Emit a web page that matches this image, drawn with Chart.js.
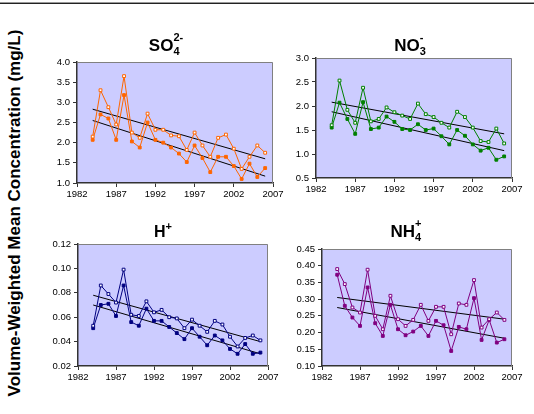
<!DOCTYPE html>
<html>
<head>
<meta charset="utf-8">
<script src="https://cdn.jsdelivr.net/npm/chart.js@4.4.1/dist/chart.umd.min.js"></script>
<style>
  html, body { margin: 0; padding: 0; background: #fff; }
  body { width: 534px; height: 414px; position: relative; overflow: hidden; font-family: "Liberation Sans", Arial, sans-serif; }
  canvas { position: absolute; }
  #topline { position: absolute; left: 0; top: 2px; width: 534px; height: 0; border-top: 1px solid #999; border-bottom: 1px solid #222; }
  #ytitle { position: absolute; left: 15px; top: 213px; transform: translate(-50%, -50%) rotate(-90deg); white-space: nowrap; font-weight: bold; font-size: 17px; color: #000; }
</style>
</head>
<body>
<div id="topline"></div>
<div id="ytitle">Volume-Weighted Mean Concentration (mg/L)</div>
<canvas id="c1"></canvas>
<canvas id="c2"></canvas>
<canvas id="c3"></canvas>
<canvas id="c4"></canvas>
<script>
// ---- data ----
const years = [1984,1985,1986,1987,1988,1989,1990,1991,1992,1993,1994,1995,1996,1997,1998,1999,2000,2001,2002,2003,2004,2005,2006];
const trendYears = [1984, 2006];
const xTicks = [1982, 1987, 1992, 1997, 2002, 2007];

const so4Upper = [2.15,3.30,2.88,2.45,3.65,2.25,2.12,2.72,2.32,2.32,2.18,2.16,1.82,2.25,1.93,1.65,2.12,2.20,1.85,1.35,1.65,1.93,1.75];
const so4Lower = [2.07,2.70,2.60,2.07,3.18,2.03,1.88,2.50,2.07,2.00,1.88,1.73,1.52,1.93,1.62,1.27,1.65,1.65,1.42,1.10,1.48,1.15,1.37];
const so4TrendUpper = [2.83, 1.60];
const so4TrendLower = [2.55, 1.17];
const so4Ticks = ['1.0', '1.5', '2.0', '2.5', '3.0', '3.5', '4.0'];

const no3Upper = [1.60,2.53,1.92,1.65,2.38,1.68,1.73,1.97,1.87,1.80,1.73,2.05,1.83,1.77,1.65,1.55,1.88,1.77,1.55,1.27,1.25,1.53,1.22];
const no3Lower = [1.55,2.07,1.73,1.42,2.08,1.52,1.55,1.78,1.67,1.52,1.50,1.62,1.50,1.53,1.37,1.20,1.50,1.38,1.20,1.07,1.13,0.88,0.95];
const no3TrendUpper = [2.08, 1.42];
const no3TrendLower = [1.88, 1.07];
const no3Ticks = ['0.5', '1.0', '1.5', '2.0', '2.5', '3.0'];

const hUpper = [0.053,0.086,0.079,0.072,0.099,0.062,0.061,0.073,0.064,0.066,0.060,0.059,0.051,0.058,0.053,0.048,0.057,0.054,0.044,0.036,0.043,0.045,0.041];
const hLower = [0.051,0.070,0.071,0.061,0.086,0.056,0.053,0.067,0.057,0.057,0.052,0.047,0.042,0.051,0.044,0.037,0.045,0.041,0.034,0.030,0.038,0.030,0.031];
const hTrendUpper = [0.078, 0.040];
const hTrendLower = [0.070, 0.030];
const hTicks = ['0.02', '0.04', '0.06', '0.08', '0.10', '0.12'];

const nh4Upper = [0.390,0.345,0.275,0.260,0.388,0.250,0.210,0.310,0.240,0.220,0.238,0.283,0.235,0.277,0.277,0.195,0.287,0.283,0.357,0.215,0.240,0.260,0.238];
const nh4Lower = [0.373,0.280,0.245,0.220,0.335,0.228,0.190,0.283,0.210,0.192,0.203,0.220,0.190,0.235,0.222,0.145,0.217,0.210,0.303,0.178,0.238,0.170,0.180];
const nh4TrendUpper = [0.305, 0.240];
const nh4TrendLower = [0.275, 0.183];
const nh4Ticks = ['0.10', '0.15', '0.20', '0.25', '0.30', '0.35', '0.40', '0.45'];

// ---- helpers ----
const FONT = "'Liberation Sans', Arial, sans-serif";
const toXY = (xs, ys) => xs.map((x, i) => ({ x: x, y: ys[i] }));

function makePanel(id, box, plot, color, upper, lower, tUp, tLo, yTickLabels, titleParts, titleCenter) {
  const cv = document.getElementById(id);
  cv.style.left = box.left + 'px';
  cv.style.top = box.top + 'px';
  cv.width = box.width; cv.height = box.height;
  const yW = plot.l - box.left;
  const xH = box.top + box.height - plot.b;
  const padTop = plot.t - box.top;
  const padRight = box.left + box.width - plot.r;
  const yVals = yTickLabels.map(Number);
  const labelFor = v => {
    let best = 0;
    yVals.forEach((t, i) => { if (Math.abs(t - v) < Math.abs(yVals[best] - v)) best = i; });
    return yTickLabels[best];
  };

  const plotDeco = {
    id: 'plotDeco',
    beforeDraw(chart) {
      const a = chart.chartArea, ctx = chart.ctx;
      ctx.save();
      ctx.fillStyle = '#CCCCFF';
      ctx.fillRect(a.left, a.top, a.right - a.left, a.bottom - a.top);
      ctx.restore();
    },
    beforeDatasetsDraw(chart) {
      const a = chart.chartArea, ctx = chart.ctx;
      ctx.save();
      ctx.strokeStyle = '#808080';
      ctx.lineWidth = 1;
      ctx.beginPath();
      ctx.moveTo(a.left, a.top + 0.5);
      ctx.lineTo(a.right - 0.5, a.top + 0.5);
      ctx.lineTo(a.right - 0.5, a.bottom);
      ctx.stroke();
      ctx.restore();
    },
    afterDraw(chart) {
      const ctx = chart.ctx;
      ctx.save();
      ctx.fillStyle = '#000';
      ctx.textBaseline = 'alphabetic';
      titleParts.forEach(p => {
        ctx.font = 'bold ' + p.size + 'px ' + FONT;
        p.w = ctx.measureText(p.text).width;
      });
      let xs = [], cur = 0;
      titleParts.forEach((p, i) => {
        if (p.stack) { xs.push(xs[i - 1]); cur = Math.max(cur, xs[i - 1] + p.w); }
        else { xs.push(cur); cur += p.w; }
      });
      const x0 = titleCenter.x - box.left - cur / 2;
      const by = titleCenter.y - box.top;
      titleParts.forEach((p, i) => {
        ctx.font = 'bold ' + p.size + 'px ' + FONT;
        ctx.fillText(p.text, x0 + xs[i], by + p.dy);
      });
      ctx.restore();
    }
  };

  return new Chart(cv, {
    type: 'line',
    data: {
      datasets: [
        { data: toXY(years, upper), borderColor: color, borderWidth: 1, pointStyle: 'rect', pointRadius: 2,
          pointBackgroundColor: '#ffffff', pointBorderColor: color, pointBorderWidth: 1, tension: 0 },
        { data: toXY(years, lower), borderColor: color, borderWidth: 1, pointStyle: 'rect', pointRadius: 2,
          pointBackgroundColor: color, pointBorderColor: color, pointBorderWidth: 1, tension: 0 },
        { data: toXY(trendYears, tUp), borderColor: '#000', borderWidth: 1, pointRadius: 0 },
        { data: toXY(trendYears, tLo), borderColor: '#000', borderWidth: 1, pointRadius: 0 }
      ]
    },
    options: {
      responsive: false,
      animation: false,
      events: [],
      layout: { padding: { left: 0, top: padTop, right: padRight, bottom: 0 } },
      plugins: { legend: { display: false }, title: { display: false }, tooltip: { enabled: false } },
      scales: {
        x: {
          type: 'linear', min: 1982, max: 2007,
          afterBuildTicks: s => { s.ticks = xTicks.map(v => ({ value: v })); },
          afterFit: s => { s.height = xH; s.paddingLeft = 0; s.paddingRight = 0; },
          grid: { drawOnChartArea: false, drawTicks: true, tickLength: 4, color: '#333', lineWidth: 1 },
          border: { color: '#333', width: 1.5 },
          ticks: { color: '#000', font: { family: FONT, size: 9.5 }, padding: 2, maxRotation: 0, autoSkip: false,
                   callback: v => String(v) }
        },
        y: {
          type: 'linear', min: yVals[0], max: yVals[yVals.length - 1],
          afterBuildTicks: s => { s.ticks = yVals.map(v => ({ value: v })); },
          afterFit: s => { s.width = yW; s.paddingTop = 0; s.paddingBottom = 0; },
          grid: { drawOnChartArea: false, drawTicks: true, tickLength: 4, color: '#333', lineWidth: 1 },
          border: { color: '#333', width: 1.5 },
          ticks: { color: '#000', font: { family: FONT, size: 9.5 }, padding: 3, autoSkip: false,
                   callback: v => labelFor(v) }
        }
      }
    },
    plugins: [plotDeco]
  });
}

makePanel('c1', { left: 30, top: 28, width: 255, height: 178 }, { l: 77, t: 62, r: 273, b: 183 },
  '#FF6600', so4Upper, so4Lower, so4TrendUpper, so4TrendLower, so4Ticks,
  [{ text: 'SO', size: 17, dy: 0 }, { text: '4', size: 11, dy: 4 }, { text: '2-', size: 11, dy: -10, stack: true }],
  { x: 166, y: 51 });

makePanel('c2', { left: 280, top: 28, width: 250, height: 178 }, { l: 316, t: 58, r: 512, b: 178 },
  '#008000', no3Upper, no3Lower, no3TrendUpper, no3TrendLower, no3Ticks,
  [{ text: 'NO', size: 17, dy: 0 }, { text: '3', size: 11, dy: 4 }, { text: '-', size: 11, dy: -10, stack: true }],
  { x: 410, y: 51 });

makePanel('c3', { left: 30, top: 215, width: 255, height: 190 }, { l: 78, t: 244, r: 268, b: 366 },
  '#000080', hUpper, hLower, hTrendUpper, hTrendLower, hTicks,
  [{ text: 'H', size: 16, dy: 0 }, { text: '+', size: 11, dy: -7 }],
  { x: 163, y: 237 });

makePanel('c4', { left: 280, top: 215, width: 250, height: 190 }, { l: 322, t: 249, r: 512, b: 366 },
  '#800080', nh4Upper, nh4Lower, nh4TrendUpper, nh4TrendLower, nh4Ticks,
  [{ text: 'NH', size: 17, dy: 0 }, { text: '4', size: 11, dy: 4 }, { text: '+', size: 11, dy: -10, stack: true }],
  { x: 406, y: 237 });
</script>
</body>
</html>
